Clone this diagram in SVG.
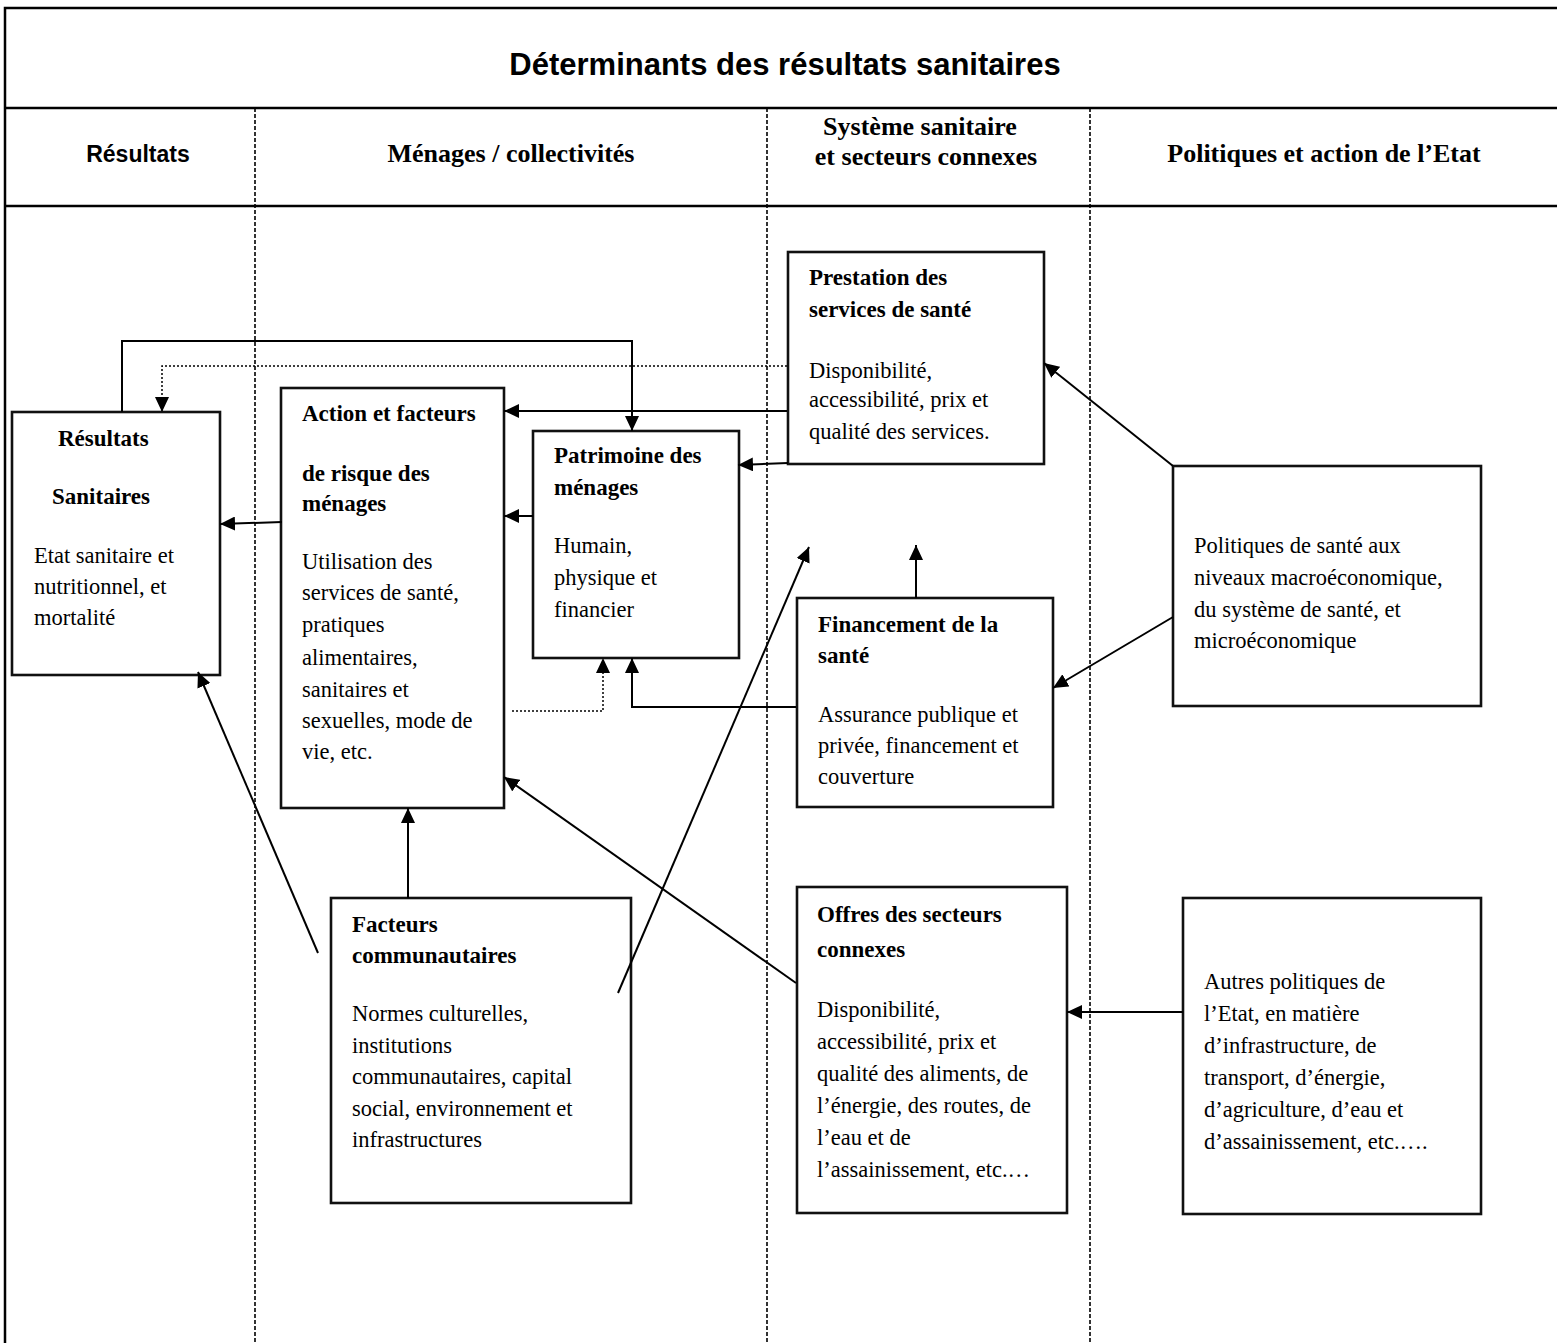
<svg xmlns="http://www.w3.org/2000/svg" width="1557" height="1343" viewBox="0 0 1557 1343">
<style>
  .frame{stroke:#000;stroke-width:2.5;fill:none}
  .div{stroke:#000;stroke-width:1.6;stroke-dasharray:4 2;fill:none}
  .box{stroke:#111;stroke-width:2.6;fill:none}
  .c{stroke:#000;stroke-width:2;fill:none}
  .d{stroke:#000;stroke-width:1.5;stroke-dasharray:2 2;fill:none}
  .sans{font-family:"Liberation Sans",Arial,sans-serif;font-weight:bold;fill:#000}
  .hd{font-family:"Liberation Serif","Times New Roman",serif;font-weight:bold;font-size:26px;fill:#000}
  .b{font-family:"Liberation Serif","Times New Roman",serif;font-weight:bold;font-size:23px;fill:#000}
  .t{font-family:"Liberation Serif","Times New Roman",serif;font-size:22.5px;fill:#000}
</style>
<defs>
  <marker id="ah" markerUnits="userSpaceOnUse" markerWidth="16" markerHeight="14" refX="15" refY="7" orient="auto">
    <path d="M0,0 L15,7 L0,14 z" fill="#000"/>
  </marker>
</defs>
<rect width="1557" height="1343" fill="#fff"/>

<g id="frame">
  <path class="frame" d="M5,1343 V8 H1557"/>
  <path class="frame" d="M5,108 H1557 M5,206 H1557"/>
  <path class="div" d="M255,108 V1343 M767,108 V1343 M1090,108 V1343"/>
  <text class="sans" x="785" y="75" font-size="31" text-anchor="middle">Déterminants des résultats sanitaires</text>
  <text class="sans" x="138" y="162" font-size="23" text-anchor="middle">Résultats</text>
  <text class="hd" x="511" y="162" text-anchor="middle">Ménages / collectivités</text>
  <text class="hd" x="920" y="135" text-anchor="middle">Système sanitaire</text>
  <text class="hd" x="926" y="165" text-anchor="middle">et secteurs connexes</text>
  <text class="hd" x="1324" y="162" text-anchor="middle">Politiques et action de l’Etat</text>
</g>

<g id="resultats">
  <rect class="box" x="12" y="412" width="208" height="263"/>
  <text class="b" x="58" y="446">Résultats</text>
  <text class="b" x="52" y="504">Sanitaires</text>
  <text class="t" x="34" y="563">Etat sanitaire et</text>
  <text class="t" x="34" y="594">nutritionnel, et</text>
  <text class="t" x="34" y="625">mortalité</text>
</g>

<g id="action">
  <rect class="box" x="281" y="388" width="223" height="420"/>
  <text class="b" x="302" y="421">Action et facteurs</text>
  <text class="b" x="302" y="481">de risque des</text>
  <text class="b" x="302" y="511">ménages</text>
  <text class="t" x="302" y="569">Utilisation des</text>
  <text class="t" x="302" y="600">services de santé,</text>
  <text class="t" x="302" y="632">pratiques</text>
  <text class="t" x="302" y="665">alimentaires,</text>
  <text class="t" x="302" y="697">sanitaires et</text>
  <text class="t" x="302" y="728">sexuelles, mode de</text>
  <text class="t" x="302" y="759">vie, etc.</text>
</g>

<g id="patrimoine">
  <rect class="box" x="533" y="431" width="206" height="227"/>
  <text class="b" x="554" y="463">Patrimoine des</text>
  <text class="b" x="554" y="495">ménages</text>
  <text class="t" x="554" y="553">Humain,</text>
  <text class="t" x="554" y="585">physique et</text>
  <text class="t" x="554" y="617">financier</text>
</g>

<g id="prestation">
  <rect class="box" x="788" y="252" width="256" height="212"/>
  <text class="b" x="809" y="285">Prestation des</text>
  <text class="b" x="809" y="317">services de santé</text>
  <text class="t" x="809" y="378">Disponibilité,</text>
  <text class="t" x="809" y="407">accessibilité, prix et</text>
  <text class="t" x="809" y="439">qualité des services.</text>
</g>

<g id="financement">
  <rect class="box" x="797" y="598" width="256" height="209"/>
  <text class="b" x="818" y="632">Financement de la</text>
  <text class="b" x="818" y="663">santé</text>
  <text class="t" x="818" y="722">Assurance publique et</text>
  <text class="t" x="818" y="753">privée, financement et</text>
  <text class="t" x="818" y="784">couverture</text>
</g>

<g id="politiques-sante">
  <rect class="box" x="1173" y="466" width="308" height="240"/>
  <text class="t" x="1194" y="553">Politiques de santé aux</text>
  <text class="t" x="1194" y="585">niveaux macroéconomique,</text>
  <text class="t" x="1194" y="617">du système de santé, et</text>
  <text class="t" x="1194" y="648">microéconomique</text>
</g>

<g id="facteurs">
  <rect class="box" x="331" y="898" width="300" height="305"/>
  <text class="b" x="352" y="932">Facteurs</text>
  <text class="b" x="352" y="963">communautaires</text>
  <text class="t" x="352" y="1021">Normes culturelles,</text>
  <text class="t" x="352" y="1053">institutions</text>
  <text class="t" x="352" y="1084">communautaires, capital</text>
  <text class="t" x="352" y="1116">social, environnement et</text>
  <text class="t" x="352" y="1147">infrastructures</text>
</g>

<g id="offres">
  <rect class="box" x="797" y="887" width="270" height="326"/>
  <text class="b" x="817" y="922" font-size="26">Offres des secteurs</text>
  <text class="b" x="817" y="957" font-size="26">connexes</text>
  <text class="t" x="817" y="1017">Disponibilité,</text>
  <text class="t" x="817" y="1049">accessibilité, prix et</text>
  <text class="t" x="817" y="1081">qualité des aliments, de</text>
  <text class="t" x="817" y="1113">l’énergie, des routes, de</text>
  <text class="t" x="817" y="1145">l’eau et de</text>
  <text class="t" x="817" y="1177">l’assainissement, etc.…</text>
</g>

<g id="autres">
  <rect class="box" x="1183" y="898" width="298" height="316"/>
  <text class="t" x="1204" y="989">Autres politiques de</text>
  <text class="t" x="1204" y="1021">l’Etat, en matière</text>
  <text class="t" x="1204" y="1053">d’infrastructure, de</text>
  <text class="t" x="1204" y="1085">transport, d’énergie,</text>
  <text class="t" x="1204" y="1117">d’agriculture, d’eau et</text>
  <text class="t" x="1204" y="1149">d’assainissement, etc.….</text>
</g>

<g id="connectors">
  <path class="c" d="M122,412 V341 H632 V431" marker-end="url(#ah)"/>
  <path class="d" d="M787,366 H162 V412" marker-end="url(#ah)"/>
  <path class="c" d="M787,411 H504" marker-end="url(#ah)"/>
  <path class="c" d="M788,463 L738,465" marker-end="url(#ah)"/>
  <path class="c" d="M533,516 H504" marker-end="url(#ah)"/>
  <path class="c" d="M282,522 L220,524" marker-end="url(#ah)"/>
  <path class="d" d="M512,711 H603 V658" marker-end="url(#ah)"/>
  <path class="c" d="M796,707 H632 V658" marker-end="url(#ah)"/>
  <path class="c" d="M916,598 V545" marker-end="url(#ah)"/>
  <path class="c" d="M618,993 L809,547" marker-end="url(#ah)"/>
  <path class="c" d="M408,898 V808" marker-end="url(#ah)"/>
  <path class="c" d="M318,953 L198,672" marker-end="url(#ah)"/>
  <path class="c" d="M796,983 L504,777" marker-end="url(#ah)"/>
  <path class="c" d="M1173,466 L1044,363" marker-end="url(#ah)"/>
  <path class="c" d="M1173,617 L1053,688" marker-end="url(#ah)"/>
  <path class="c" d="M1183,1012 H1067" marker-end="url(#ah)"/>
</g>
</svg>
